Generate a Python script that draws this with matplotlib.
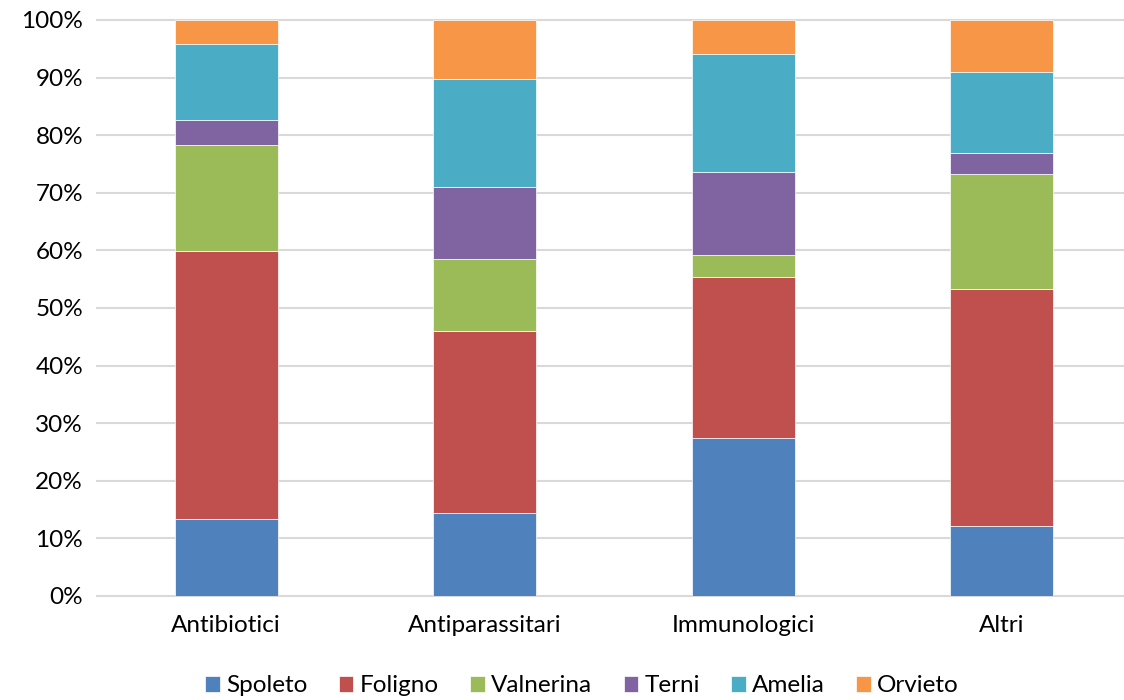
import matplotlib.pyplot as plt
import numpy as np

# Categories and series (percent shares of each category)
categories = ['Antibiotici', 'Antiparassitari', 'Immunologici', 'Altri']
series_names = ['Spoleto', 'Foligno', 'Valnerina', 'Terni', 'Amelia', 'Orvieto']
spoleto = [13.4, 14.4, 27.4, 12.2]
foligno = [46.5, 31.6, 28.0, 41.1]
valnerina = [18.4, 12.5, 3.8, 20.0]
terni = [4.3, 12.5, 14.4, 3.6]
amelia = [13.2, 18.8, 20.5, 14.1]
orvieto = [4.2, 10.2, 5.9, 9.0]
colors = ['#4F81BD', '#C0504D', '#9BBB59', '#8064A2', '#4BACC6', '#F79646']

plt.rcParams['font.family'] = ['Lato', 'DejaVu Sans']

fig = plt.figure(figsize=(11.24, 7.0), dpi=100)
# Excel-like plot area; right edge runs past the figure
ax = fig.add_axes([97 / 1124, 104 / 700, 1034 / 1124, 576 / 700])

x = np.arange(len(categories))
data = [spoleto, foligno, valnerina, terni, amelia, orvieto]
bottom = np.zeros(len(categories))
for name, vals, col in zip(series_names, data, colors):
    vals = np.array(vals) / 100.0
    ax.bar(x, vals, 0.4, bottom=bottom, color=col, label=name,
           edgecolor='white', linewidth=0.5, zorder=3)
    bottom += vals

ax.set_xlim(-0.5, len(categories) - 0.5)
ax.set_ylim(0, 1)
ax.set_yticks(np.arange(0, 1.01, 0.1))
ax.set_yticklabels([f'{int(round(v * 100))}%' for v in np.arange(0, 1.01, 0.1)])
ax.set_xticks(x)
ax.set_xticklabels(categories)
ax.tick_params(axis='both', length=0, labelsize=17.5, colors='#000000')
ax.tick_params(axis='x', pad=14)
ax.tick_params(axis='y', pad=10)

ax.yaxis.grid(True, color='#D9D9D9', linewidth=1.5, zorder=0)
for gl in ax.get_ygridlines():
    gl.set_clip_on(False)
for s in ax.spines.values():
    s.set_visible(False)

fig.legend(loc='center', bbox_to_anchor=(582 / 1124, 14 / 700), ncol=6,
           frameon=False, fontsize=17.5, handlelength=0.6, handleheight=0.6,
           handletextpad=0.25, columnspacing=1.3)

fig.savefig('out.png', dpi=100)
